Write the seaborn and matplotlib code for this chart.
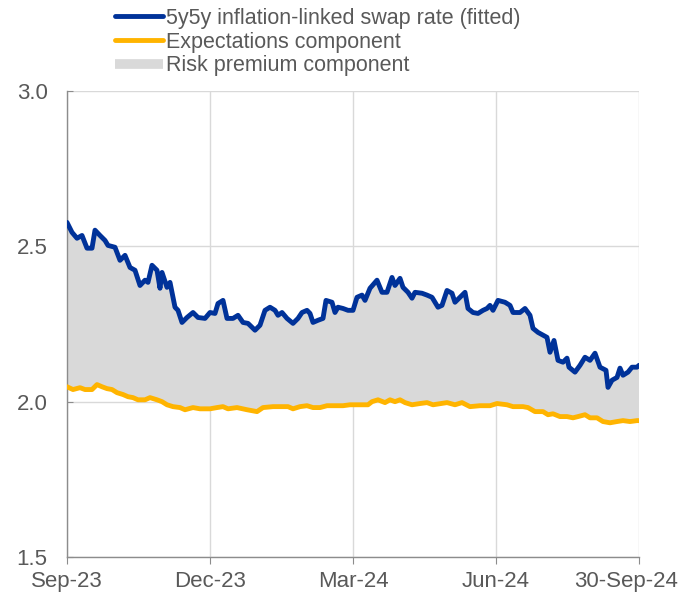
import numpy as np
import pandas as pd
import matplotlib
matplotlib.use("Agg")
import matplotlib.pyplot as plt
import matplotlib.transforms as mtransforms
from matplotlib.lines import Line2D
import seaborn as sns

# Time index (trading-day positions along the axis) and values
swap_t = [0, 5, 10, 15, 20, 25, 28, 33, 38, 41, 48, 53, 58, 63, 68, 73, 78, 81, 85, 90,
          93, 95, 100, 103, 108, 111, 115, 120, 126, 131, 138, 143, 148, 151, 156, 160,
          166, 171, 176, 181, 188, 193, 198, 203, 208, 211, 215, 220, 226, 231, 235, 240,
          243, 246, 251, 256, 259, 265, 268, 271, 276, 281, 286, 290, 295, 298, 303, 310,
          315, 320, 325, 328, 333, 336, 341, 345, 348, 355, 360, 365, 371, 375, 380, 385,
          388, 393, 398, 401, 406, 411, 416, 420, 423, 426, 431, 438, 443, 446, 453, 458,
          463, 466, 471, 480, 483, 487, 491, 496, 500, 502, 508, 513, 518, 523, 528, 533,
          539, 541, 545, 550, 553, 556, 561, 565, 570, 572]
swap_v = [2.577, 2.545, 2.526, 2.535, 2.494, 2.494, 2.552, 2.535, 2.519, 2.503, 2.497,
          2.455, 2.471, 2.432, 2.423, 2.374, 2.391, 2.384, 2.439, 2.423, 2.365, 2.416,
          2.368, 2.384, 2.304, 2.294, 2.255, 2.271, 2.287, 2.271, 2.268, 2.287, 2.284,
          2.316, 2.326, 2.268, 2.268, 2.278, 2.255, 2.252, 2.230, 2.246, 2.294, 2.304,
          2.294, 2.278, 2.287, 2.268, 2.252, 2.268, 2.287, 2.294, 2.284, 2.255, 2.262,
          2.268, 2.326, 2.320, 2.287, 2.304, 2.300, 2.294, 2.294, 2.336, 2.343, 2.326,
          2.365, 2.391, 2.352, 2.352, 2.400, 2.374, 2.397, 2.368, 2.352, 2.333, 2.352,
          2.349, 2.343, 2.336, 2.304, 2.310, 2.358, 2.349, 2.320, 2.336, 2.352, 2.300,
          2.287, 2.284, 2.294, 2.300, 2.310, 2.294, 2.326, 2.320, 2.310, 2.287, 2.287,
          2.300, 2.278, 2.236, 2.223, 2.207, 2.159, 2.197, 2.133, 2.127, 2.140, 2.111,
          2.095, 2.117, 2.143, 2.133, 2.156, 2.111, 2.101, 2.046, 2.069, 2.078, 2.108,
          2.085, 2.095, 2.111, 2.111, 2.117]

exp_t = [0, 6, 13, 18, 25, 30, 35, 40, 45, 50, 56, 61, 66, 71, 78, 83, 90, 95, 100, 106,
         113, 118, 126, 133, 143, 150, 156, 161, 170, 180, 190, 196, 206, 216, 221, 226,
         233, 240, 246, 253, 260, 266, 276, 283, 291, 301, 305, 311, 318, 323, 328, 333,
         338, 345, 353, 360, 366, 380, 388, 395, 403, 413, 423, 430, 440, 446, 456, 461,
         468, 476, 481, 486, 493, 500, 506, 511, 518, 523, 530, 536, 543, 550, 556, 563,
         570, 572]
exp_v = [2.048, 2.039, 2.045, 2.039, 2.039, 2.055, 2.048, 2.042, 2.039, 2.029, 2.023,
         2.016, 2.013, 2.006, 2.006, 2.013, 2.006, 2.000, 1.990, 1.984, 1.981, 1.974,
         1.981, 1.977, 1.977, 1.981, 1.984, 1.977, 1.981, 1.974, 1.968, 1.981, 1.984,
         1.984, 1.984, 1.977, 1.984, 1.987, 1.981, 1.981, 1.987, 1.987, 1.987, 1.990,
         1.990, 1.990, 2.000, 2.006, 1.997, 2.006, 2.000, 2.006, 1.997, 1.990, 1.994,
         1.997, 1.990, 1.997, 1.990, 1.997, 1.984, 1.987, 1.987, 1.994, 1.990, 1.984,
         1.984, 1.981, 1.968, 1.968, 1.958, 1.961, 1.952, 1.952, 1.948, 1.952, 1.958,
         1.948, 1.948, 1.936, 1.932, 1.936, 1.939, 1.936, 1.939, 1.939]

tick_pos = [0, 143, 286, 429, 572]
tick_labels = ["Sep-23", "Dec-23", "Mar-24", "Jun-24", "30-Sep-24"]
y_ticks = [1.5, 2.0, 2.5, 3.0]

labels = ["5y5y inflation-linked swap rate (fitted)", "Expectations component",
          "Risk premium component"]

BLUE = "#003299"
ORANGE = "#ffb400"
FILL = "#d9d9d9"
TXT = "#595959"

sns.set_style("white")
plt.rcParams["font.family"] = ["Liberation Sans", "DejaVu Sans"]

fig = plt.figure(figsize=(6.79, 5.94), dpi=100)
ax = fig.add_axes([67/679, 1-557/594, (639-67)/679, (557-91)/594])

df_swap = pd.DataFrame({"t": swap_t, "v": swap_v})
df_exp = pd.DataFrame({"t": exp_t, "v": exp_v})

# risk premium area between the two curves
ax.fill(np.r_[swap_t, exp_t[::-1]], np.r_[swap_v, exp_v[::-1]],
        color=FILL, lw=0, zorder=1)

sns.lineplot(data=df_swap, x="t", y="v", ax=ax, color=BLUE, lw=3.5, zorder=3)
sns.lineplot(data=df_exp, x="t", y="v", ax=ax, color=ORANGE, lw=3.5, zorder=3)

ax.set_xlim(0, 572)
ax.set_ylim(1.5, 3.0)
ax.set_xticks(tick_pos)
ax.set_xticklabels(tick_labels)
ax.set_yticks(y_ticks)
ax.set_yticklabels([f"{v:.1f}" for v in y_ticks])
ax.set_xlabel("")
ax.set_ylabel("")

ax.grid(True, color="#d9d9d9", lw=1.0, zorder=0)
ax.set_axisbelow(True)
for s in ["top", "right"]:
    ax.spines[s].set_visible(False)
for s in ["left", "bottom"]:
    ax.spines[s].set_color("#8c8c8c")
    ax.spines[s].set_linewidth(1.0)

ax.tick_params(axis="y", direction="in", length=4, color="#8c8c8c", pad=14,
               labelsize=16, labelcolor=TXT, left=True)
ax.tick_params(axis="x", direction="out", length=5, color="#8c8c8c", pad=5,
               labelsize=16, labelcolor=TXT, bottom=True)

last = ax.get_xticklabels()[-1]
last.set_transform(last.get_transform() +
                   mtransforms.ScaledTranslation(-13/100, 0, fig.dpi_scale_trans))

handles = [Line2D([], [], color=BLUE, lw=3.5),
           Line2D([], [], color=ORANGE, lw=3.5),
           Line2D([], [], color=FILL, lw=7, solid_capstyle="butt")]
fig.legend(handles, labels, loc="upper left", bbox_to_anchor=(115/679, 1-8/594),
           frameon=False, fontsize=15.5, labelcolor=TXT, handlelength=2.25,
           handletextpad=0.12, labelspacing=0.12, borderpad=0, borderaxespad=0)

fig.savefig("out.png", dpi=100)
